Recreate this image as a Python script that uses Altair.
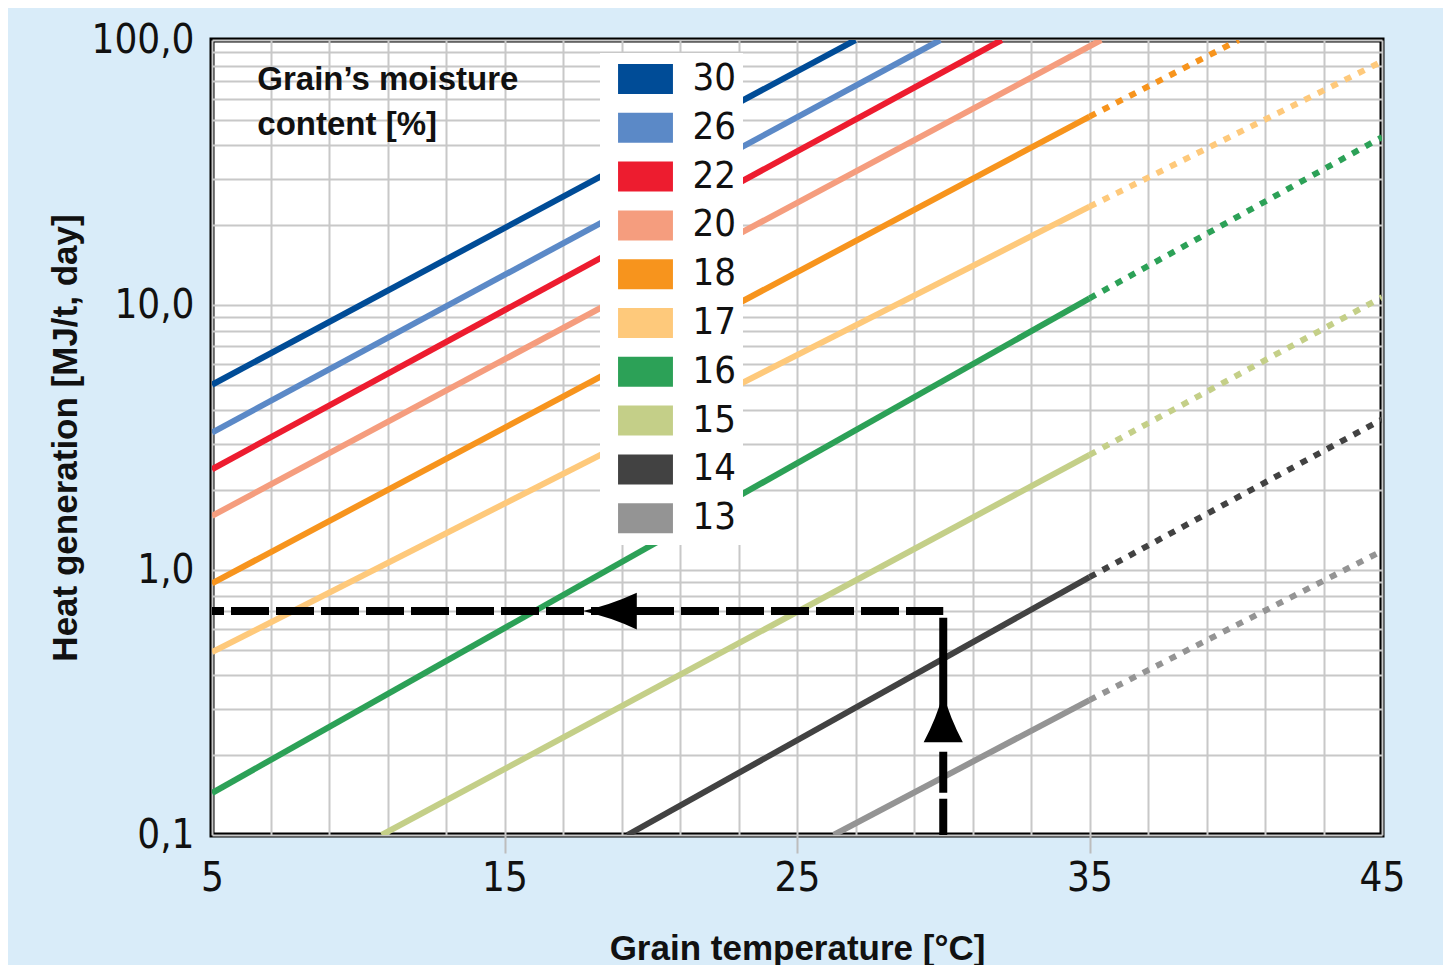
import altair as alt
import pandas as pd

# ---------------- data ----------------
moisture = ["30", "26", "22", "20", "18", "17", "16", "15", "14", "13"]
colors = ["#004c97", "#5b89c7", "#ed1c2f", "#f59d7e", "#f7941d",
          "#fec97b", "#2ca157", "#c4cf88", "#424242", "#949494"]

# solid part of each curve: start point and end point
solid_x0 = [5, 5, 5, 5, 5, 5, 5, 10.8, 19.2, 26.25]
solid_y0 = [5.0, 3.3, 2.4, 1.6, 0.89, 0.49, 0.144, 0.1, 0.1, 0.1]
solid_x1 = [27.0, 29.9, 32.0, 35.4, 35, 35, 35, 35, 35, 35]
solid_y1 = [100, 100, 100, 100, 51.4, 23.5, 10.6, 2.72, 0.94, 0.323]

# dotted continuation beyond 35 degC
dot_moisture = ["18", "17", "16", "15", "14", "13"]
dot_x1 = [40.1, 45, 45, 45, 45, 45]
dot_y1 = [100, 83, 43, 10.7, 3.7, 1.18]

# axes
x_grid = list(range(5, 46, 2))
x_labels = [5, 15, 25, 35, 45]
x_ticks = [15, 25, 35]
y_grid = [0.1, 0.2, 0.3, 0.4, 0.5, 0.6, 0.7, 0.8, 0.9,
          1, 2, 3, 4, 5, 6, 7, 8, 9,
          10, 20, 30, 40, 50, 60, 70, 80, 90, 100]
y_labels = [0.1, 1, 10, 100]

# example reading (dashed guide with arrows)
guide_temp = 30
guide_heat = 0.7
guide_start_temp = 5
guide_bottom = 0.1
guide_vert_top = 0.66
arrow_left_x = 18.6
arrow_up_y = 0.277

# annotation
note_lines = ["Grain\u2019s moisture", "content [%]"]
note_x = [6.55, 6.55]
note_y = [64.8, 43.8]

# ---------------- tables ----------------
rows = []
for i, m in enumerate(moisture):
    rows.append({"m": m, "x": solid_x0[i], "y": solid_y0[i], "o": 0})
    rows.append({"m": m, "x": solid_x1[i], "y": solid_y1[i], "o": 1})
df_solid = pd.DataFrame(rows)

rows = []
for i, m in enumerate(dot_moisture):
    k = moisture.index(m)
    rows.append({"m": m, "x": solid_x1[k], "y": solid_y1[k], "o": 0})
    rows.append({"m": m, "x": dot_x1[i], "y": dot_y1[i], "o": 1})
df_dot = pd.DataFrame(rows)

df_h = pd.DataFrame({"x": [guide_start_temp, guide_temp], "y": [guide_heat, guide_heat], "o": [0, 1]})
df_v = pd.DataFrame({"x": [guide_temp, guide_temp], "y": [guide_vert_top, guide_bottom], "o": [0, 1]})
df_al = pd.DataFrame({"x": [arrow_left_x], "y": [guide_heat]})
df_au = pd.DataFrame({"x": [guide_temp], "y": [arrow_up_y]})
df_note = pd.DataFrame({"x": note_x, "y": note_y, "t": note_lines})

NARROW = "Liberation Sans Narrow, DejaVu Sans Condensed, sans-serif"
BOLD = "Liberation Sans, Arial, sans-serif"
INK = "#111111"
GRID = "#c8c8c8"

xl = ",".join(str(v) for v in x_labels)
xt = ",".join(str(v) for v in x_ticks)
yl = ",".join(str(v) for v in y_labels)

x_enc = alt.X(
    "x:Q",
    scale=alt.Scale(domain=[5, 45], nice=False, zero=False),
    axis=alt.Axis(
        values=x_grid,
        labelExpr=f"indexof([{xl}], datum.value) >= 0 ? datum.label : ''",
        title="Grain temperature [\u00b0C]",
        grid=True, gridColor=GRID, gridWidth=2,
        domain=False,
        ticks=True, tickSize=18, tickColor="#bdbdbd", tickWidth=2,
        tickOpacity={"condition": {"test": f"indexof([{xt}], datum.value) >= 0", "value": 1}, "value": 0},
        labelFont=NARROW, labelFontSize=40, labelColor=INK, labelPadding=5,
        labelFlush=False, labelOverlap=False,
        titleFont=BOLD, titleFontSize=35, titleFontWeight="bold", titleColor=INK,
        titlePadding=33,
    ),
)
y_enc = alt.Y(
    "y:Q",
    scale=alt.Scale(type="log", domain=[0.1, 100], nice=False),
    axis=alt.Axis(
        values=y_grid,
        labelExpr=f"indexof([{yl}], datum.value) >= 0 ? replace(format(datum.value, '.1f'), '.', ',') : ''",
        title="Heat generation [MJ/t, day]",
        grid=True, gridColor=GRID, gridWidth=2,
        domain=False, ticks=False,
        labelFont=NARROW, labelFontSize=40, labelColor=INK, labelPadding=18,
        labelFlush=False, labelOverlap=False,
        titleFont=BOLD, titleFontSize=35, titleFontWeight="bold", titleColor=INK,
        titlePadding=8,
    ),
)

color_scale = alt.Scale(domain=moisture, range=colors)

solid = alt.Chart(df_solid).mark_line(strokeWidth=6, clip=True, strokeCap="butt").encode(
    x=x_enc, y=y_enc,
    color=alt.Color("m:N", scale=color_scale, sort=moisture, legend=None),
    order="o:Q",
)

dotted = alt.Chart(df_dot).mark_line(strokeWidth=6, clip=True, strokeDash=[7, 8], strokeCap="butt").encode(
    x=x_enc, y=y_enc,
    color=alt.Color("m:N", scale=color_scale, sort=moisture, legend=None),
    order="o:Q",
)

# layer that only carries the legend (filled swatches); it draws no marks itself
legend_layer = alt.Chart(df_solid).transform_filter("false").mark_point(
    filled=True, opacity=1, strokeWidth=0,
).encode(
    x=x_enc, y=y_enc,
    color=alt.Color("m:N", scale=color_scale, sort=moisture,
                    legend=alt.Legend(
                        orient="none", legendX=388, legendY=13, title=None,
                        fillColor="white", padding=7,
                        symbolType="M-1.83,-1H1.83V1H-1.83Z", symbolSize=900,
                        symbolStrokeWidth=0, symbolOpacity=1,
                        symbolOffset=19.5,
                        labelFont=NARROW, labelFontSize=38, labelColor=INK,
                        labelOffset=28, rowPadding=10.8,
                    )),
)

guide_h = alt.Chart(df_h).mark_line(color="black", strokeWidth=8, strokeDash=[38, 7],
                                    strokeDashOffset=26, strokeCap="butt").encode(
    x=x_enc, y=y_enc, order="o:Q")
guide_v = alt.Chart(df_v).mark_line(color="black", strokeWidth=8, strokeDash=[124, 10, 41, 6, 60],
                                    strokeCap="butt").encode(
    x=x_enc, y=y_enc, order="o:Q")

arrow_left = alt.Chart(df_al).mark_point(
    shape="M-1,0 Q0,-0.22 1,-0.68 L1,0.68 Q0,0.22 -1,0 Z",
    size=2916, filled=True, color="black", opacity=1, strokeWidth=0,
).encode(x=x_enc, y=y_enc)
arrow_up = alt.Chart(df_au).mark_point(
    shape="M0,-1 Q-0.27,0 -0.8,1 L0.8,1 Q0.27,0 0,-1 Z",
    size=2401, filled=True, color="black", opacity=1, strokeWidth=0,
).encode(x=x_enc, y=y_enc)

note = alt.Chart(df_note).mark_text(
    align="left", baseline="alphabetic", font=BOLD, fontSize=33, fontWeight="bold", color=INK,
).encode(x=x_enc, y=y_enc, text="t:N")

chart = alt.layer(legend_layer, solid, dotted, guide_h, guide_v, arrow_left, arrow_up, note).properties(
    width=1170, height=795,
    padding={"left": 204, "top": 32, "right": 61, "bottom": 130},
    autosize=alt.AutoSizeParams(type="none"),
    background="#d9ecf9",
).configure_view(stroke="black", strokeWidth=5, fill="white")

chart.save("out.html", embed_options={"renderer": "svg", "actions": False})
